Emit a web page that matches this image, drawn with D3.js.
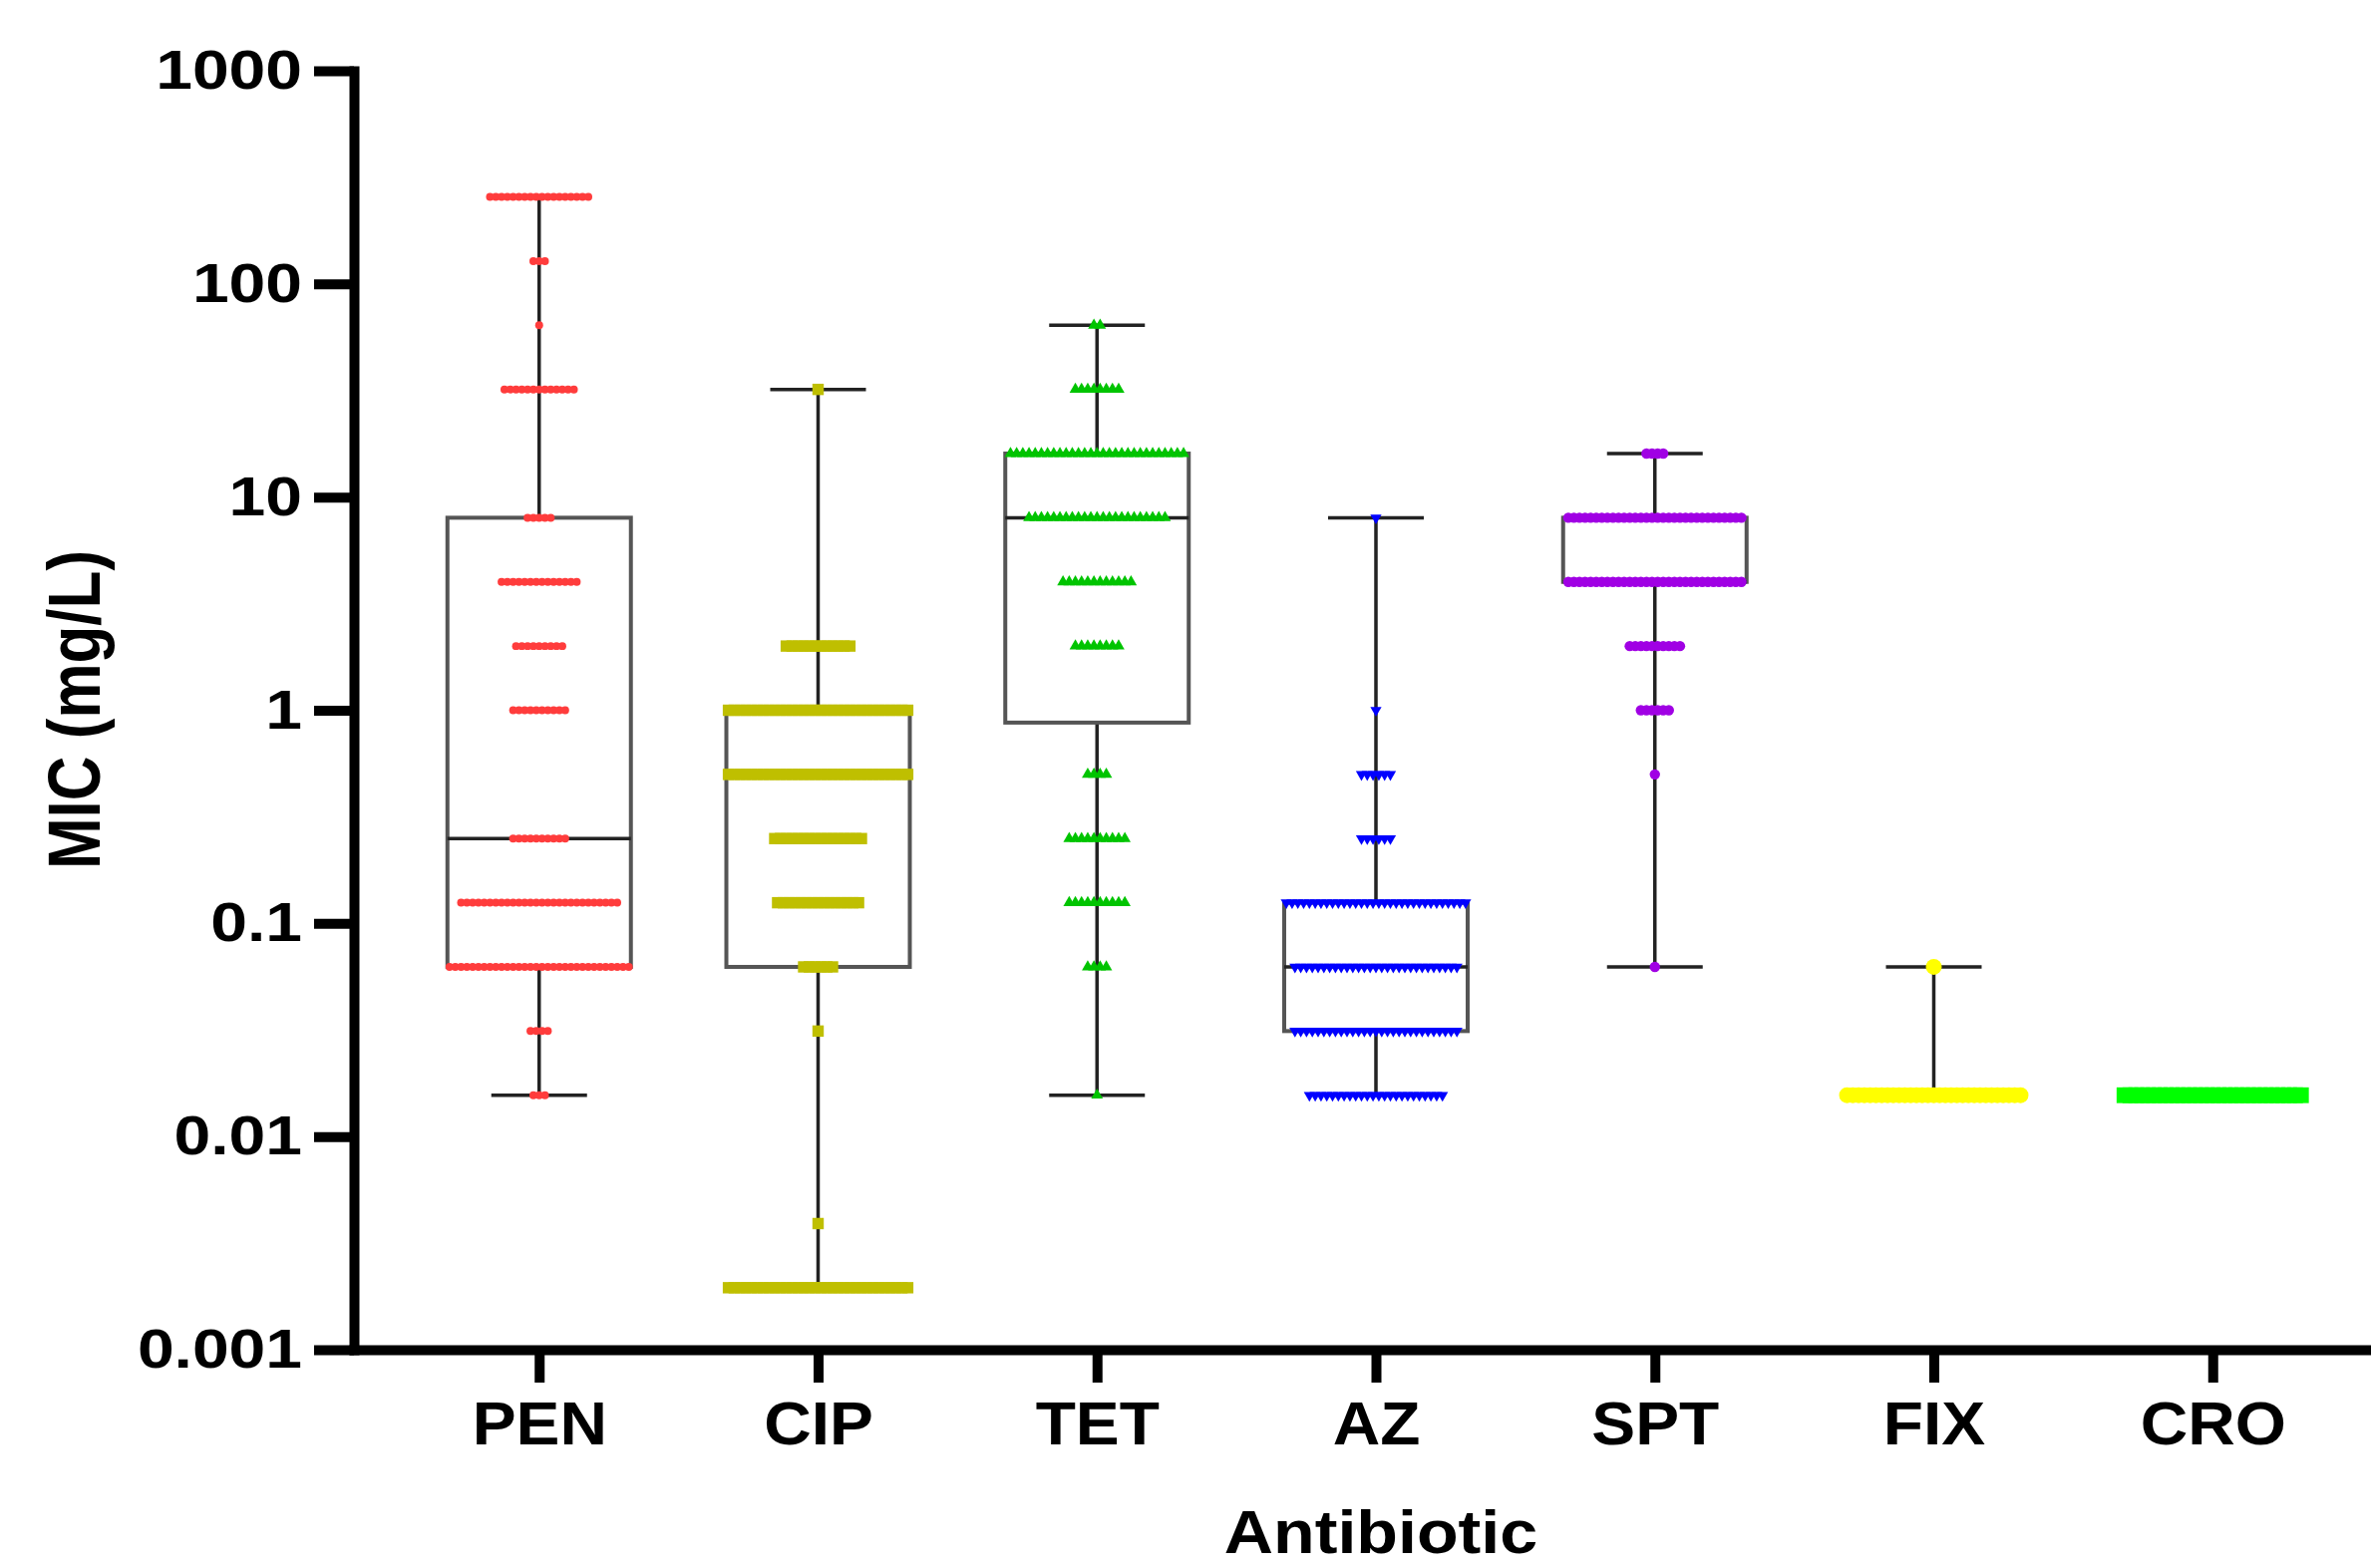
<!DOCTYPE html>
<html>
<head>
<meta charset="utf-8">
<script src="https://cdn.jsdelivr.net/npm/d3@7"></script>
<style>
  body { margin: 0; background: #fff; }
  svg { display: block; }
  text { font-family: "Liberation Sans", Arial, sans-serif; font-weight: bold; fill: #000; }
</style>
</head>
<body>
<div id="chart"></div>
<script>
// antibiotics on the x axis
const antibiotics = ["PEN", "CIP", "TET", "AZ", "SPT", "FIX", "CRO"]

// MIC dilution steps in mg/L, high to low
const micLevels = [256, 128, 64, 32, 16, 8, 4, 2, 1, 0.5, 0.25, 0.125, 0.0625, 0.03125, 0.015625, 0.0078125, 0.00390625, 0.001953125]

// isolates found at each MIC step (same order as micLevels)
const penCounts = [18, 3, 1, 13, 0, 5, 14, 9, 10, 0, 10, 28, 32, 4, 3, 0, 0, 0]
const cipCounts = [0, 0, 0, 1, 0, 0, 0, 12, 32, 32, 16, 15, 6, 1, 0, 0, 1, 32]
const tetCounts = [0, 0, 2, 8, 29, 23, 12, 8, 0, 4, 10, 10, 4, 0, 1, 0, 0, 0]
const azCounts  = [0, 0, 0, 0, 0, 1, 0, 0, 1, 6, 6, 32, 29, 29, 24, 0, 0, 0]
const sptCounts = [0, 0, 0, 0, 4, 32, 32, 10, 6, 1, 0, 0, 1, 0, 0, 0, 0, 0]
const fixCounts = [0, 0, 0, 0, 0, 0, 0, 0, 0, 0, 0, 0, 1, 0, 31, 0, 0, 0]
const croCounts = [0, 0, 0, 0, 0, 0, 0, 0, 0, 0, 0, 0, 0, 0, 31, 0, 0, 0]

// box plot summary per antibiotic
const whiskerLow  = [0.015625, 0.001953125, 0.015625, 0.015625, 0.0625, 0.015625, 0.015625]
const boxQ1       = [0.0625, 0.0625, 0.875, 0.03125, 4, 0.015625, 0.015625]
const boxMedian   = [0.25, 0.5, 8, 0.0625, 4, 0.015625, 0.015625]
const boxQ3       = [8, 1, 16, 0.125, 8, 0.015625, 0.015625]
const whiskerHigh = [256, 32, 64, 8, 16, 0.0625, 0.015625]

const yTicks = [0.001, 0.01, 0.1, 1, 10, 100, 1000]

const allCounts = [penCounts, cipCounts, tetCounts, azCounts, sptCounts, fixCounts, croCounts]

// marker look for each antibiotic
const markers = [
  { color: "#ff3c3c", shape: d3.symbolCircle,   size: 50,  gap: 5.8, flip: false },
  { color: "#bfbf00", shape: d3.symbolSquare,   size: 130, gap: 5.8, flip: false },
  { color: "#00c400", shape: d3.symbolTriangle, size: 60,  gap: 6.2, flip: false },
  { color: "#0000ff", shape: d3.symbolTriangle, size: 55,  gap: 5.8, flip: true },
  { color: "#a000e4", shape: d3.symbolCircle,   size: 85,  gap: 5.6, flip: false },
  { color: "#ffff00", shape: d3.symbolCircle,   size: 200, gap: 5.8, flip: false },
  { color: "#00ff00", shape: d3.symbolSquare,   size: 250, gap: 5.9, flip: false }
]

var width = 2378
var height = 1573
var margin = { top: 71, bottom: 219, left: 355, right: -27 }

const svg = d3.select("#chart")
  .append("svg")
  .attr("width", width)
  .attr("height", height)
  .attr("viewBox", [0, 0, width, height])

svg.append("rect").attr("width", width).attr("height", height).attr("fill", "#fff")

const x = d3.scalePoint()
  .domain(antibiotics)
  .range([margin.left, width - margin.right])
  .padding(0.664)

const y = d3.scaleLog()
  .domain([0.001, 1000])
  .range([height - margin.bottom, margin.top])

// one record per antibiotic with its box stats
const boxes = antibiotics.map((name, i) => ({
  name: name,
  lo: whiskerLow[i], q1: boxQ1[i], med: boxMedian[i], q3: boxQ3[i], hi: whiskerHigh[i]
}))

const boxHalf = 92, capHalf = 48

const boxG = svg.append("g")

// whiskers
boxG.selectAll(".whisker")
  .data(boxes)
  .join("path")
  .attr("class", "whisker")
  .attr("fill", "none")
  .attr("stroke", "#222")
  .attr("stroke-width", 3.5)
  .attr("d", d => {
    const cx = x(d.name)
    return `M${cx},${y(d.q3)}V${y(d.hi)}M${cx},${y(d.q1)}V${y(d.lo)}` +
      `M${cx - capHalf},${y(d.hi)}H${cx + capHalf}M${cx - capHalf},${y(d.lo)}H${cx + capHalf}`
  })

// boxes
boxG.selectAll(".box")
  .data(boxes)
  .join("rect")
  .attr("class", "box")
  .attr("x", d => x(d.name) - boxHalf)
  .attr("width", boxHalf * 2)
  .attr("y", d => y(d.q3))
  .attr("height", d => y(d.q1) - y(d.q3))
  .attr("fill", "#fff")
  .attr("stroke", "#555")
  .attr("stroke-width", 4)

// medians
boxG.selectAll(".median")
  .data(boxes)
  .join("line")
  .attr("class", "median")
  .attr("x1", d => x(d.name) - boxHalf)
  .attr("x2", d => x(d.name) + boxHalf)
  .attr("y1", d => y(d.med))
  .attr("y2", d => y(d.med))
  .attr("stroke", "#222")
  .attr("stroke-width", 3.5)

// individual isolates, laid out in rows at each MIC step
const points = []
antibiotics.forEach((name, i) => {
  allCounts[i].forEach((n, j) => {
    for (let k = 0; k < n; k++) {
      points.push({ name: name, idx: i, mic: micLevels[j], slot: k - (n - 1) / 2 })
    }
  })
})

svg.append("g")
  .selectAll("path")
  .data(points)
  .join("path")
  .attr("d", d => d3.symbol(markers[d.idx].shape, markers[d.idx].size)())
  .attr("fill", d => markers[d.idx].color)
  .attr("transform", d => {
    const m = markers[d.idx]
    const px = x(d.name) + d.slot * m.gap
    return `translate(${px},${y(d.mic)})` + (m.flip ? " rotate(180)" : "")
  })

// y axis
const yAxisG = svg.append("g")
  .attr("transform", `translate(${margin.left},0)`)
  .call(d3.axisLeft(y).tickValues(yTicks).tickFormat(d => String(d))
    .tickSize(40).tickSizeOuter(0).tickPadding(12))

yAxisG.select(".domain").attr("stroke", "#000").attr("stroke-width", 10).attr("stroke-linecap", "square")
yAxisG.selectAll(".tick line").attr("stroke", "#000").attr("stroke-width", 10)
yAxisG.selectAll(".tick text")
  .attr("font-size", 55)
  .attr("x", -52 / 1.2)
  .attr("transform", "scale(1.2,1)")

// x axis
const xAxisG = svg.append("g")
  .attr("transform", `translate(0,${y(0.001)})`)
  .call(d3.axisBottom(x).tickSize(33).tickSizeOuter(0))

xAxisG.select(".domain").attr("stroke", "#000").attr("stroke-width", 10).attr("stroke-linecap", "square")
xAxisG.selectAll(".tick line").attr("stroke", "#000").attr("stroke-width", 10)
xAxisG.selectAll(".tick text")
  .attr("font-size", 61.5)
  .attr("y", 95)
  .attr("dy", 0)
  .attr("transform", "scale(1.07,1)")

// axis titles
svg.append("text")
  .attr("transform", "translate(100,712) scale(1.2,1) rotate(-90)")
  .attr("text-anchor", "middle")
  .attr("font-size", 62)
  .text("MIC (mg/L)")

svg.append("text")
  .attr("transform", "translate(1385,1558) scale(1.1,1)")
  .attr("text-anchor", "middle")
  .attr("font-size", 62)
  .text("Antibiotic")
</script>
</body>
</html>
